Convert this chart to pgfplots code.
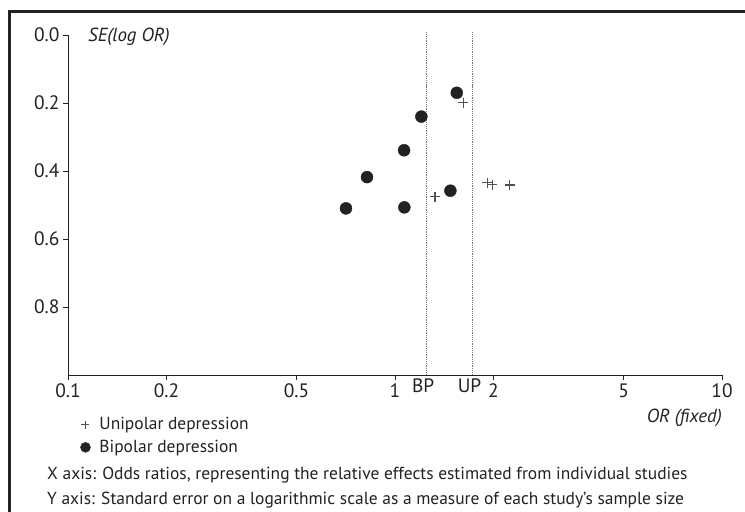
\documentclass[border=0pt]{standalone}
\usepackage{fontspec}
\setmainfont{PT Sans}
\usepackage{pgfplots}
\pgfplotsset{compat=1.18}
\definecolor{ink}{HTML}{222222}
\definecolor{plusc}{HTML}{505050}
\definecolor{dotc}{HTML}{7a7a7a}
\pgfplotsset{
  legA/.style={legend image code/.code={\path (0cm,0cm) (0.55cm,0cm);
      \draw[##1, mark size=4bp] plot coordinates {(0.15cm,0cm)};}},
  legB/.style={legend image code/.code={\path (0cm,0cm) (0.55cm,0cm);
      \draw[##1, mark size=5bp] plot coordinates {(0.15cm,0cm)};}},
}
\begin{document}
\begin{tikzpicture}[x=1bp,y=1bp]
\path[use as bounding box] (0,0) rectangle (745,512);
\draw[line width=2.5bp, color=ink] (9.5,0) -- (9.5,500.5) -- (745,500.5);
\begin{axis}[
  at={(68bp,137bp)}, anchor=south west,
  scale only axis, width=654bp, height=340bp,
  xmode=log, xmin=0.1, xmax=10, ymin=0, ymax=1, y dir=reverse,
  axis x line*=bottom, axis y line*=left,
  axis line style={-, line width=0.9bp, ink},
  xtick={0.1,0.2,0.5,1,2,5,10}, xticklabels={0.1,0.2,0.5,1,2,5,10},
  extra x ticks={1.22,1.69}, extra x tick labels={BP,UP},
  extra x tick style={major tick length=0pt},
  ytick={0,0.2,0.4,0.6,0.8}, yticklabels={0.0,0.2,0.4,0.6,0.8},
  xminorticks=false, yminorticks=false,
  tick align=outside, major tick length=5bp,
  tick style={ink, line width=0.9bp},
  ticklabel style={font=\fontsize{19.5}{22}\selectfont, text=ink},
  /pgf/number format/assume math mode=true,
  clip=false,
  legend style={at={(0.0142,-0.113)}, anchor=north west, draw=none, fill=none,
    font=\fontsize{17.5}{20}\selectfont, text=ink, row sep=5bp},
  legend cell align=left,
]
\addplot[forget plot, dotc, line width=1.2bp, densely dotted] coordinates {(1.25,-0.01) (1.25,1)};
\addplot[forget plot, dotc, line width=1.2bp, densely dotted] coordinates {(1.729,-0.01) (1.729,1)};
\addplot[only marks, mark=+, mark size=5bp, plusc, line width=1.2bp, legA]
  coordinates {(1.618,0.199) (1.326,0.476) (1.917,0.434) (1.986,0.440) (2.245,0.441)};
\addlegendentry{Unipolar depression}
\addplot[only marks, mark=*, mark size=6bp, ink, fill=ink, legB]
  coordinates {(1.545,0.170) (1.204,0.240) (1.066,0.339) (0.821,0.418) (1.477,0.458) (0.708,0.510) (1.068,0.507)};
\addlegendentry{Bipolar depression}
\end{axis}
\node[anchor=base west, font=\itshape\fontsize{19}{22}\selectfont, text=ink, inner sep=0] at (88,470) {SE(log OR)};
\node[anchor=base east, font=\itshape\fontsize{19}{22}\selectfont, text=ink, inner sep=0] at (722,89) {OR (fixed)};
\node[anchor=base west, font=\fontsize{17.5}{20}\selectfont, text=ink, inner sep=0] at (47,32.5) {X axis: Odds ratios, representing the relative effects estimated from individual studies};
\node[anchor=base west, font=\fontsize{17.5}{20}\selectfont, text=ink, inner sep=0] at (47,7.5) {Y axis: Standard error on a logarithmic scale as a measure of each study’s sample size};
\end{tikzpicture}
\end{document}
